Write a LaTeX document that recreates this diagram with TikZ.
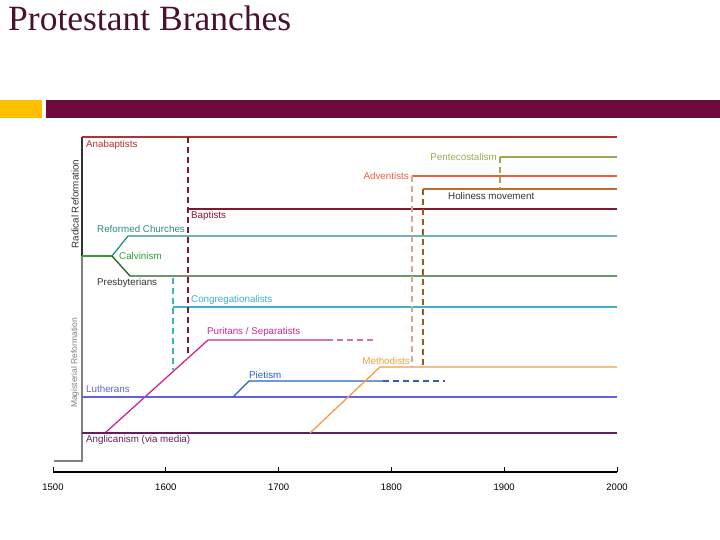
\documentclass[tikz,border=0pt]{standalone}
\usepackage{fontspec}
\setmainfont{Liberation Serif}
\setsansfont{Liberation Sans}
\usetikzlibrary{positioning}
\definecolor{titlecol}{HTML}{4A1030}
\definecolor{barmaroon}{HTML}{6E0B3C}
\definecolor{baryellow}{HTML}{FFC000}
\definecolor{anabapcol}{HTML}{B83030}
\definecolor{baptistcol}{HTML}{801830}
\definecolor{reformcol}{HTML}{2A8A8A}
\definecolor{calvincol}{HTML}{30A030}
\definecolor{presbycol}{HTML}{206020}
\definecolor{congrcol}{HTML}{40B0C8}
\definecolor{puritancol}{HTML}{D02890}
\definecolor{puritandash}{HTML}{D070B0}
\definecolor{luthercol}{HTML}{6060E8}
\definecolor{pietcol}{HTML}{2060D0}
\definecolor{pietdash}{HTML}{3060A8}
\definecolor{anglicol}{HTML}{602060}
\definecolor{methodcol}{HTML}{F0A040}
\definecolor{adventcol}{HTML}{E86040}
\definecolor{adventdash}{HTML}{E8A090}
\definecolor{holicol}{HTML}{C06A30}
\definecolor{holidash}{HTML}{A05A20}
\definecolor{pentecol}{HTML}{9AAA50}
\tikzstyle{branch} = [line width=1.3pt]
\tikzstyle{link}   = [line width=1.3pt, dash pattern=on 6pt off 4pt]
\tikzstyle{lbl}    = [font=\sffamily\fontsize{9.8}{11}\selectfont, inner sep=1pt, anchor=west]
\tikzstyle{side}   = [font=\sffamily\fontsize{8.5}{10}\selectfont, rotate=90, inner sep=1pt]
\tikzstyle{year}   = [font=\sffamily\fontsize{9.5}{10}\selectfont, inner sep=1pt]

\begin{document}
\begin{tikzpicture}[x=1pt, y=-1pt]
    \useasboundingbox (0,0) rectangle (720,540);
    % title and banner
    \node[anchor=base west, inner sep=0pt, text=titlecol, font=\fontsize{35.5}{38}\selectfont] (title) at (8,31) {Protestant Branches};
    \fill[baryellow] (0,100) rectangle (42,118);
    \fill[barmaroon] (46,100) rectangle (720,118);

    % bracket on the left
    \draw[line width=1.2pt, black!80] (82,137) -- (82,256);
    \draw[line width=1.2pt, black!50] (82,256) -- (82,461) -- (54,461);
    \node[side, text=black!80, font=\sffamily\fontsize{9.8}{10}\selectfont] (radical) at (75,204) {Radical Reformation};
    \node[side, text=black!50] (magist)  at (75,363) {Magisterial Reformation};

    % time axis
    \draw[line width=1.6pt] (53,472) coordinate (y1500) -- (617,472) coordinate (y2000);
    \foreach \yr [count=\i from 0] in {1500,1600,1700,1800,1900,2000} {
        \draw[line width=1pt] (53+112.8*\i,472) -- (53+112.8*\i,467);
        \node[year] (lab\yr) at (53+112.8*\i,487) {\yr};
    }

    % main branches
    \draw[branch, anabapcol]  (82,137) -- (617,137);
    \node[lbl, text=anabapcol] (anabap) at (85,145) {Anabaptists};
    \draw[branch, baptistcol] (188,209) coordinate (bapt) -- (617,209);
    \node[lbl, text=baptistcol] (baptist) at (190,216) {Baptists};
    \draw[branch, calvincol]  (82,256) -- (112,256) coordinate (calv);
    \node[lbl, text=calvincol] (calvin) at (118,256) {Calvinism};
    \draw[branch, reformcol]  (calv) -- (128,236) -- (617,236);
    \node[lbl, text=reformcol] (reform) at (96,229) {Reformed Churches};
    \draw[branch, presbycol]  (calv) -- (130,276) -- (617,276);
    \node[lbl, text=black!80] (presby) at (96,283) {Presbyterians};
    \draw[branch, congrcol]   (173,307) coordinate (congr) -- (617,307);
    \node[lbl, text=congrcol] (congreg) at (190,300) {Congregationalists};
    \draw[branch, puritancol] (105,433) -- (208,340) -- (327,340) coordinate (purend);
    \draw[link, puritandash]  (purend) -- (377,340);
    \node[lbl, text=puritancol] (puritan) at (206,332) {Puritans / Separatists};
    \draw[branch, luthercol]  (82,397) -- (617,397);
    \node[lbl, text=luthercol] (luther) at (85,389) {Lutherans};
    \draw[branch, pietcol]    (233,397) -- (249,381) -- (383,381) coordinate (pietend);
    \draw[link, pietdash]     (pietend) -- (445,381);
    \node[lbl, text=pietcol] (pietism) at (248,375) {Pietism};
    \draw[branch, anglicol]   (82,433) -- (617,433);
    \node[lbl, text=anglicol] (anglic) at (85,440) {Anglicanism (via media)};
    \draw[branch, methodcol]  (310,433) -- (380,367) coordinate (meth) -- (617,367);
    \node[lbl, text=methodcol, anchor=east] (method) at (411,361) {Methodists};
    \draw[branch, adventcol]  (412,176) coordinate (advent) -- (617,176);
    \node[lbl, text=adventcol, anchor=east] (adv) at (410,176) {Adventists};
    \draw[branch, holicol]    (423,189) coordinate (holi) -- (617,189);
    \node[lbl, text=black!80] (holiness) at (447,196) {Holiness movement};
    \draw[branch, pentecol]   (500,157) coordinate (pente) -- (617,157);
    \node[lbl, text=pentecol, anchor=east] (pentecost) at (498,157) {Pentecostalism};

    % descent links
    \draw[link, baptistcol] (188,137) -- (188,357);
    \draw[link, congrcol]   (173,278) -- (173,370);
    \draw[link, adventdash] (advent) -- (412,367);
    \draw[link, holidash]   (holi) -- (423,367);
    \draw[link, pentecol]   (pente) -- (500,189);
\end{tikzpicture}
\end{document}
